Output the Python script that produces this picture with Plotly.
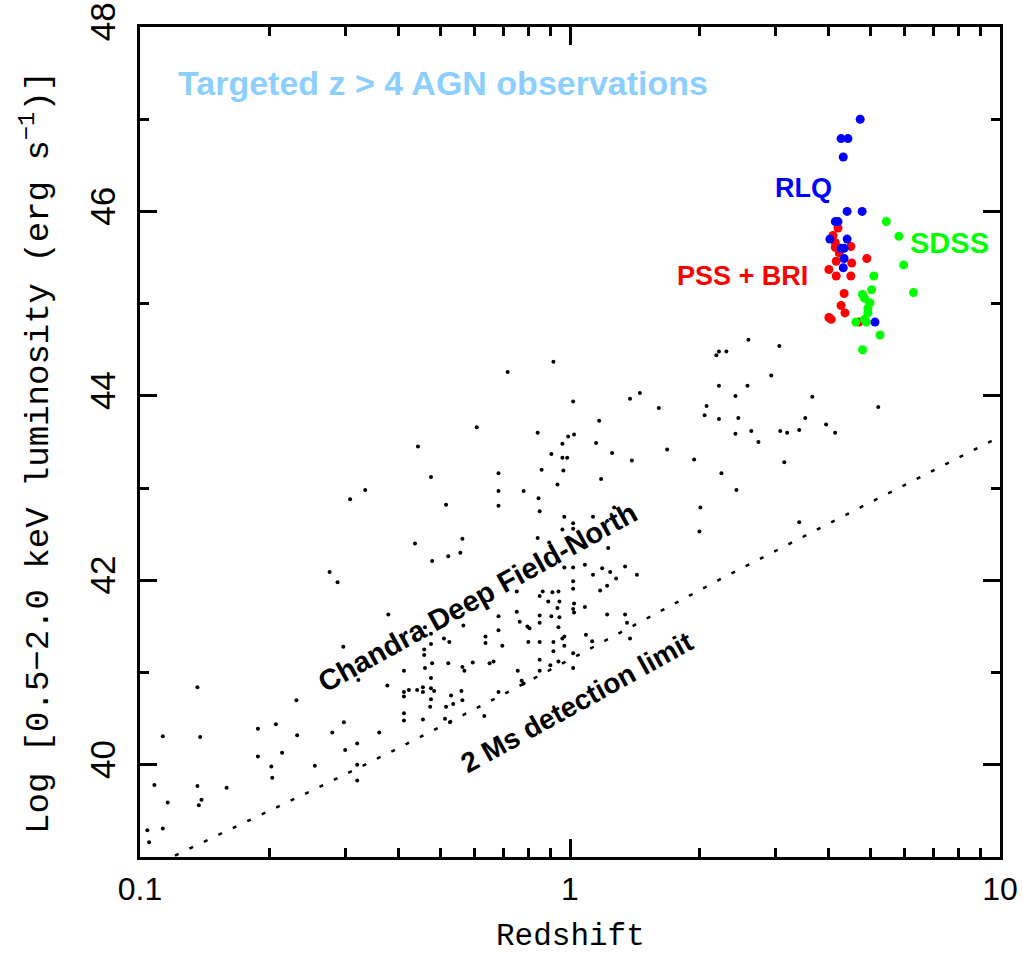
import plotly.graph_objects as go

# ---------------- data ----------------
# Chandra Deep Field-North sources (redshift, log L_X)
cdfn_z = [0.104, 0.113, 0.105, 0.113, 0.138, 0.108, 0.116, 0.136, 0.139, 0.137, 0.159, 0.136,
          0.188, 0.207, 0.231, 0.232, 0.188, 0.214, 0.202, 0.203, 0.255, 0.276, 0.288, 0.297,
          0.280, 0.298, 0.300, 0.320, 0.320, 0.320, 0.322, 0.360, 0.376, 0.378, 0.334, 0.308,
          0.411, 0.411, 0.411, 0.422, 0.441, 0.455, 0.455, 0.411, 0.411, 0.455, 0.458, 0.458,
          0.460, 0.475, 0.475, 0.478, 0.475, 0.475, 0.483, 0.475, 0.473, 0.509, 0.524, 0.521,
          0.529, 0.535, 0.515, 0.512, 0.526, 0.460, 0.559, 0.562, 0.632, 0.772, 0.780,
          0.607, 0.443, 0.475, 0.515, 0.436, 0.562, 0.556, 0.521, 0.478,
          1.454, 1.379, 1.017, 1.609, 1.169, 0.841, 1.022, 0.990, 1.150, 0.960, 1.682, 1.253,
          0.905, 0.960, 0.985, 1.393, 0.859, 0.965, 0.682, 1.181, 0.935, 0.682, 0.780, 0.845,
          0.682, 1.267, 0.850, 1.131, 0.970, 1.017, 1.017, 0.960, 0.841, 0.895, 1.227, 0.970,
          1.017, 1.083, 1.188, 1.343, 1.240, 1.131, 1.431, 1.280, 1.017, 1.017, 1.220, 1.175,
          0.752, 0.864, 0.910, 0.940, 0.850, 0.890, 0.945, 0.935, 1.022, 1.017, 1.022, 1.083,
          0.752, 1.220, 1.343, 0.682, 0.850, 0.905, 0.945, 0.764, 0.565, 0.796, 0.805, 0.850,
          0.940, 1.357, 1.379, 1.089, 0.970, 0.960, 0.636, 0.682, 0.636, 0.915, 0.800, 0.850,
          0.696, 1.126, 0.970, 0.915, 1.017, 0.850, 0.940, 0.594, 0.650, 0.664, 0.900, 0.562,
          0.568, 1.017, 0.850, 0.756, 0.682,
          2.600, 3.067, 2.189, 2.220, 2.310, 2.938, 2.220, 2.587, 3.660, 2.425, 2.078, 2.056,
          2.220, 2.463, 5.210, 3.525, 2.425, 2.640, 3.083, 3.200, 3.412, 3.940, 4.136, 2.743,
          1.944, 3.150, 2.250, 2.438, 2.010, 2.000, 3.412, 0.716, 0.915]
cdfn_L = [39.29, 39.31, 39.16, 40.31, 40.30, 39.78, 39.59, 39.77, 39.62, 39.56, 39.75, 40.84,
          40.39, 40.44, 40.70, 40.32, 40.09, 40.13, 39.98, 39.86, 39.99, 42.09, 41.98, 41.28,
          40.35, 40.46, 40.16, 40.23, 40.00, 39.83, 40.92, 40.35, 40.86, 41.63, 42.98, 42.88,
          41.02, 40.79, 40.74, 40.81, 40.81, 40.84, 40.79, 40.56, 40.48, 40.49, 41.25, 41.19,
          41.05, 41.42, 41.31, 41.10, 40.94, 40.83, 40.80, 40.71, 40.63, 41.37, 41.33, 41.10,
          40.75, 40.66, 40.63, 40.50, 40.46, 41.49, 40.80, 40.70, 40.53, 40.91, 40.88,
          43.66, 43.45, 43.12, 42.82, 42.40, 42.45, 42.30, 42.26, 42.21,
          44.03, 43.97, 43.94, 43.87, 43.73, 43.60, 43.58, 43.56, 43.49, 43.48, 43.42, 43.38,
          43.37, 43.33, 43.33, 43.30, 43.20, 43.19, 43.16, 43.10, 43.04, 42.97, 42.97, 42.89,
          42.81, 42.79, 42.75, 42.69, 42.69, 42.62, 42.56, 42.55, 42.46, 42.41, 42.35, 42.14,
          42.14, 42.17, 42.13, 42.15, 42.09, 42.06, 42.06, 42.02, 41.99, 41.91, 41.94, 41.89,
          41.88, 41.88, 41.87, 41.88, 41.83, 41.77, 41.77, 41.70, 41.75, 41.69, 41.65, 41.71,
          41.66, 41.63, 41.63, 41.61, 41.62, 41.61, 41.60, 41.55, 41.51, 41.50, 41.48, 41.54,
          41.49, 41.54, 41.37, 41.41, 41.39, 41.37, 41.39, 41.46, 41.32, 41.33, 41.33, 41.33,
          41.29, 41.34, 41.29, 41.23, 41.21, 41.14, 41.12, 41.11, 41.10, 41.12, 41.08, 41.06,
          41.02, 41.05, 41.02, 41.02, 40.79,
          44.61, 44.54, 44.44, 44.48, 44.48, 44.22, 44.11, 44.11, 43.99, 44.00, 43.89, 43.79,
          43.75, 43.76, 43.88, 43.76, 43.59, 43.62, 43.62, 43.60, 43.63, 43.69, 43.60, 43.50,
          43.31, 43.28, 43.16, 42.98, 42.79, 42.53, 42.63, 44.26, 44.37]

# PSS + BRI quasars
pss_z = [4.20, 4.09, 4.14, 4.50, 4.14, 4.23, 4.90, 4.16, 4.52, 4.00, 4.16, 4.50, 4.34, 4.27,
         4.36, 4.00, 4.05, 4.70]
pss_L = [45.82, 45.74, 45.66, 45.62, 45.61, 45.55, 45.49, 45.46, 45.44, 45.37, 45.30, 45.30,
         45.11, 44.98, 44.90, 44.85, 44.83, 44.80]

# SDSS quasars
sdss_z = [5.44, 5.82, 5.97, 5.09, 5.03, 6.29, 4.79, 4.84, 4.98, 4.93, 4.93, 4.84, 4.62, 4.89,
          5.26, 4.79]
sdss_L = [45.89, 45.73, 45.42, 45.30, 45.15, 45.12, 45.10, 45.06, 45.01, 44.95, 44.90, 44.83,
          44.80, 44.80, 44.66, 44.50]

# Radio-loud quasars
rlq_z = [4.73, 4.27, 4.43, 4.32, 4.41, 4.78, 4.14, 4.20, 4.02, 4.41, 4.27, 4.34, 4.34, 4.32, 5.12]
rlq_L = [47.00, 46.79, 46.79, 46.59, 46.00, 46.00, 45.89, 45.89, 45.70, 45.70, 45.60, 45.60,
         45.49, 45.39, 44.80]

# 2 Ms detection limit curve
lim_z = [0.1206, 0.1773, 0.2622, 0.3877, 0.488, 0.7176, 1.055, 1.543, 2.257, 3.319, 4.88, 10.0]
lim_L = [39.016, 39.384, 39.762, 40.151, 40.389, 40.789, 41.20, 41.611, 42.022, 42.422, 42.822, 43.557]

x_tickvals = [0.1, 1, 10]
x_ticktext = ["0.1", "1", "10"]
x_minor = [0.2, 0.3, 0.4, 0.5, 0.6, 0.7, 0.8, 0.9, 2, 3, 4, 5, 6, 7, 8, 9]
y_tickvals = [40, 42, 44, 46, 48]
y_ticktext = ["40", "42", "44", "46", "48"]
y_minor = [39, 41, 43, 45, 47]

# ---------------- figure ----------------
fig = go.Figure()
fig.add_trace(go.Scatter(x=lim_z, y=lim_L, mode="lines",
                         line=dict(color="black", width=2.5, dash="4px,12px"),
                         showlegend=False, hoverinfo="skip"))
fig.add_trace(go.Scatter(x=cdfn_z, y=cdfn_L, mode="markers",
                         marker=dict(color="black", size=4), showlegend=False))
fig.add_trace(go.Scatter(x=pss_z, y=pss_L, mode="markers",
                         marker=dict(color="#FF0000", size=9), showlegend=False))
fig.add_trace(go.Scatter(x=sdss_z, y=sdss_L, mode="markers",
                         marker=dict(color="#00FF00", size=9), showlegend=False))
fig.add_trace(go.Scatter(x=rlq_z, y=rlq_L, mode="markers",
                         marker=dict(color="#0000FF", size=9), showlegend=False))

sans = "Liberation Sans, Arial, sans-serif"
mono = "Liberation Mono, Courier New, monospace"

axis_common = dict(showline=True, linewidth=3, linecolor="black", mirror="allticks",
                   ticks="inside", tickcolor="black", tickwidth=2.5, showgrid=False,
                   zeroline=False, automargin=False)

fig.update_xaxes(type="log", range=[-1, 1], tickmode="array", tickvals=x_tickvals,
                 ticktext=x_ticktext, ticklen=18, ticklabelstandoff=2,
                 tickfont=dict(family=sans, size=32, color="black"),
                 minor=dict(tickmode="array", tickvals=x_minor, ticks="inside", ticklen=9,
                            tickwidth=2.5, tickcolor="black", showgrid=False),
                 **axis_common)
fig.update_yaxes(range=[39, 48], tickmode="array", tickvals=y_tickvals, ticktext=y_ticktext,
                 ticklen=17, tickangle=-90, ticklabelstandoff=8,
                 tickfont=dict(family=sans, size=35, color="black"),
                 minor=dict(tickmode="array", tickvals=y_minor, ticks="inside", ticklen=9,
                            tickwidth=2.5, tickcolor="black", showgrid=False),
                 **axis_common)

annots = [
    dict(text="<b>Targeted z > 4 AGN observations</b>", x=0.352, y=0.932,
         font=dict(family=sans, size=34, color="#8CCFFF"), textangle=0),
    dict(text="<b>RLQ</b>", x=0.771, y=0.806,
         font=dict(family=sans, size=27, color="#0000FF"), textangle=0),
    dict(text="<b>SDSS</b>", x=0.941, y=0.740,
         font=dict(family=sans, size=29, color="#00FF00"), textangle=0),
    dict(text="<b>PSS + BRI</b>", x=0.701, y=0.700,
         font=dict(family=sans, size=27, color="#FF0000"), textangle=0),
    dict(text="<b>Chandra Deep Field-North</b>", x=0.393, y=0.313,
         font=dict(family=sans, size=29, color="black"), textangle=-29),
    dict(text="<b>2 Ms detection limit</b>", x=0.508, y=0.186,
         font=dict(family=sans, size=28, color="black"), textangle=-29),
    dict(text="Log [0.5\u22122.0 keV luminosity (erg s<sup>\u22121</sup>)]", x=-0.121, y=0.488,
         font=dict(family=mono, size=34, color="black"), textangle=-90),
    dict(text="Redshift", x=0.5, y=-0.096,
         font=dict(family=mono, size=31, color="black"), textangle=0),
]
for a in annots:
    a.update(xref="paper", yref="paper", showarrow=False, xanchor="center", yanchor="middle")
fig.update_layout(annotations=annots)

fig.update_layout(width=1023, height=956, margin=dict(l=140, r=23, t=27, b=99, autoexpand=False),
                  plot_bgcolor="white", paper_bgcolor="white", showlegend=False)

fig.write_html("out.html")
